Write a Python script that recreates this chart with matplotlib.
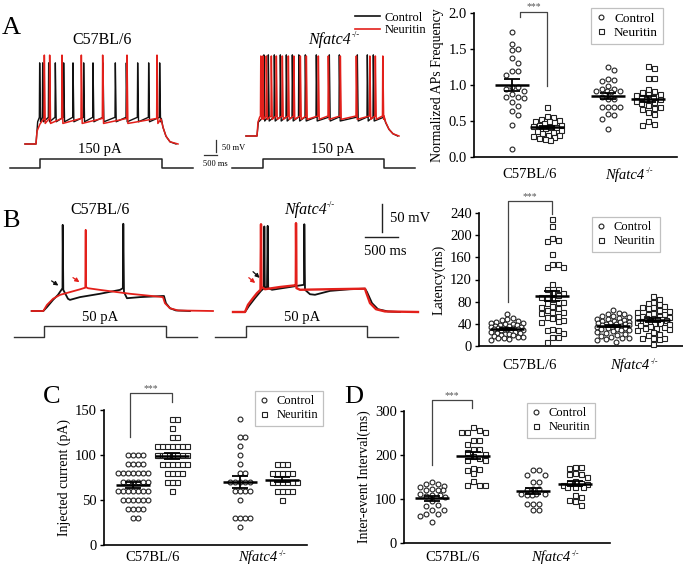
import numpy as np
import matplotlib
matplotlib.use('Agg')
import matplotlib.pyplot as plt
from matplotlib.lines import Line2D
from matplotlib.transforms import blended_transform_factory

plt.rcParams['font.family'] = 'Liberation Serif'

RED = '#e3201b'
BLK = '#111111'

# ---- A: normalized AP frequency ----
ap_wt_ctrl = [1.73, 1.57, 1.50, 1.49, 1.38, 1.31, 1.19, 1.19, 1.14, 0.97, 0.97, 0.94,
              0.92, 0.87, 0.84, 0.84, 0.82, 0.76, 0.71, 0.64, 0.58, 0.45, 0.11]
ap_wt_neur = [0.70, 0.57, 0.55, 0.53, 0.52, 0.50, 0.50, 0.48, 0.47, 0.45, 0.44, 0.43, 0.42,
              0.42, 0.40, 0.38, 0.36, 0.35, 0.33, 0.31, 0.30, 0.29, 0.28, 0.27, 0.25, 0.24]
ap_ko_ctrl = [1.25, 1.21, 1.08, 1.07, 1.06, 0.99, 0.95, 0.94, 0.92, 0.92, 0.92, 0.90,
              0.84, 0.81, 0.81, 0.70, 0.70, 0.69, 0.69, 0.60, 0.58, 0.53, 0.39]
ap_ko_neur = [1.27, 1.24, 1.10, 1.10, 0.95, 0.92, 0.90, 0.88, 0.87, 0.86, 0.85, 0.83, 0.80,
              0.80, 0.78, 0.77, 0.75, 0.72, 0.70, 0.68, 0.66, 0.62, 0.60, 0.50, 0.46, 0.44]

# ---- B: latency (ms) ----
lat_wt_ctrl = [58, 50, 48, 47, 45, 44, 42, 41, 40, 39, 38, 37, 36, 36, 35, 34, 33, 33, 32, 31,
               30, 30, 29, 28, 27, 26, 25, 24, 23, 22, 21, 20, 19, 18, 17, 16, 15, 15, 12, 10]
lat_wt_neur = [229, 216, 195, 192, 189, 166, 148, 148, 142, 142, 112, 103, 103, 97, 96, 92, 89,
               88, 85, 80, 80, 78, 72, 71, 68, 65, 62, 62, 60, 55, 53, 50, 47, 45, 44, 30, 29,
               28, 23, 17, 16, 8]
lat_ko_ctrl = [65, 60, 58, 57, 55, 54, 52, 50, 49, 48, 47, 46, 45, 44, 43, 42, 41, 40, 40, 39,
               38, 37, 36, 35, 34, 33, 32, 31, 30, 29, 28, 27, 25, 24, 22, 20, 18, 16, 15, 14,
               12, 10, 8]
lat_ko_neur = [90, 85, 80, 78, 75, 72, 70, 70, 68, 65, 63, 62, 60, 58, 57, 55, 54, 53, 52, 50,
               50, 49, 48, 47, 46, 45, 44, 43, 42, 41, 40, 38, 36, 35, 33, 32, 30, 28, 25, 22,
               20, 15, 15, 14, 12, 3]

# ---- C: injected current (pA) ----
cur_wt_ctrl = [100] * 4 + [90] * 4 + [80] * 7 + [70] * 6 + [60] * 7 + [50] * 6 + [40] * 4 + [30] * 2
cur_wt_neur = [140] * 2 + [130] + [120] * 2 + [110] * 7 + [100] * 9 + [90] * 6 + [80] * 4 + [70] * 3 + [60]
cur_ko_ctrl = [140, 120, 120, 110, 100, 90, 80, 80, 70, 70, 70, 70, 70, 60, 60, 60, 60, 50,
               30, 30, 30, 30, 20]
cur_ko_neur = [90] * 3 + [80] * 5 + [70] * 6 + [60] * 4 + [50]

# ---- D: inter-event interval (ms) ----
iei_wt_ctrl = [139, 133, 135, 130, 127, 122, 120, 120, 120, 108, 111, 106, 105, 108, 95, 86, 83,
               74, 74, 65, 67, 62, 48]
iei_wt_neur = [264, 256, 252, 252, 252, 233, 233, 224, 214, 214, 207, 202, 197, 194, 189, 189,
               167, 169, 171, 158, 131, 131, 131, 140]
iei_ko_ctrl = [165, 154, 154, 165, 139, 139, 123, 121, 123, 111, 108, 108, 111, 111, 88, 88, 88,
               74, 74]
iei_ko_neur = [173, 173, 171, 156, 159, 156, 150, 136, 140, 136, 131, 133, 127, 127, 127, 108,
               105, 95, 97, 87]

# ---- A traces: spike times (ms after depolarisation) and levels (mV) ----
a_wt_ctrl_spikes = [50, 95, 185, 285, 410, 550, 710, 850, 1000, 1185, 1350, 1520, 1685, 1850]
a_wt_neur_spikes = [120, 200, 385, 675, 995, 1360, 1810]
a_ko_ctrl_spikes = [98, 165, 255, 345, 435, 525, 622, 720, 885, 1080, 1230, 1500, 1650, 1740]
a_ko_neur_spikes = [52, 82, 135, 210, 285, 375, 465, 548, 645, 735, 915, 1065, 1245, 1485,
                    1688, 1770, 1882]
# threshold, trough, peak
a_wt_ctrl_lv = (-22, -30, 76)
a_wt_neur_lv = (-24, -33, 90)
a_ko_ctrl_lv = (-36, -43, 76)
a_ko_neur_lv = (-34, -40, 74)
a_wt_ctrl_on = ([-165, 0, 25], [-70, -70, -30])
a_wt_neur_on = ([-165, 0, 15, 60], [-70, -70, -47, -34])
a_wt_ctrl_off = ([1880, 1905, 1950, 2010, 2100], [-24, -40, -56, -66, -70])
a_wt_neur_off = ([1875, 1905, 1950, 2010, 2130], [-25, -40, -56, -66, -70])
a_ko_ctrl_on = ([-165, 0, 20, 80], [-70, -70, -45, -38])
a_ko_neur_on = ([-165, 0, 15, 40], [-70, -70, -45, -36])
a_ko_ctrl_off = ([1905, 1930, 1980, 2040, 2110], [-36, -46, -58, -66, -70])
a_ko_neur_off = ([1905, 1930, 1980, 2040, 2130], [-34, -45, -58, -66, -70])

# ---- B traces (ms, mV) ----
b_wt_ctrl_t = [-174, 0, 55, 146, 220, 288, 291, 300, 370, 400, 550, 850, 1150, 1193, 1200, 1210,
               1255, 1450, 1795, 1810, 1840, 1900, 1990, 2200]
b_wt_ctrl_v = [-70, -70, -63, -50, -41, -29, 85, -32, -48, -50, -45, -39, -32, -29, 87, -36,
               -47, -45, -43, -43, -56, -65, -69, -70]
b_wt_neur_t = [-174, 0, 55, 146, 250, 400, 550, 630, 636, 640, 670, 850, 1300, 1795, 1825, 1900,
               2020, 2545]
b_wt_neur_v = [-70, -70, -59, -48, -41, -36, -31, -28, 76, -27, -29, -32, -39, -45, -56, -65,
               -69, -70]
b_ko_ctrl_t = [-180, 0, 60, 150, 240, 285, 290, 297, 330, 340, 348, 405, 675, 885, 890, 900, 975,
               1050, 1275, 1575, 1800, 1830, 1905, 1995, 2145, 2325]
b_ko_ctrl_v = [-70, -70, -59, -45, -32, -27, 84, -25, -26, 85, -27, -30, -25, -21, 88, -30, -38,
               -39, -32, -29, -28, -34, -54, -65, -69, -70]
b_ko_neur_t = [-180, 0, 45, 120, 180, 232, 240, 248, 300, 525, 750, 762, 765, 772, 825, 1275,
               1800, 1815, 1875, 1965, 2100, 2595]
b_ko_neur_v = [-70, -70, -57, -45, -36, -30, 88, -25, -29, -25, -22, -21, 90, -27, -30, -29, -28,
               -34, -54, -65, -69, -70]

# current step protocol
stim_t = [-460, 0, 0, 1820, 1820, 2290]
stim_a = [0, 0, 150, 150, 0, 0]
stim_b = [0, 0, 50, 50, 0, 0]

W, H = 683, 565
fig = plt.figure(figsize=(W / 100, H / 100), dpi=100)
# transparent overlay for figure-level text
ov = fig.add_axes([0, 0, 1, 1])
ov.axis('off')


def box_axes(x0, x1, y0, y1):
    return fig.add_axes([x0 / W, 1 - y1 / H, (x1 - x0) / W, (y1 - y0) / H])


def ftext(x, y, s, **kw):
    kw.setdefault('ha', 'center')
    kw.setdefault('va', 'baseline')
    return fig.text(x / W, 1 - y / H, s, **kw)


def ko_label(owner, x, y, fs, transform):
    # italic gene name with a small upright -/- superscript
    t = owner.text(x, y, 'Nfatc4', transform=transform, ha='center', va='baseline',
                   fontsize=fs, style='italic')
    owner.annotate('-/-', xy=(1.0, 1.0), xycoords=t, xytext=(0.5, 0.5),
                   textcoords='offset points', ha='left', va='top', fontsize=fs * 0.55)
    return t


def scaled_axes(x0, x1, y0, y1, xz, yz, xs, ys, y_at_zero=0.0):
    # axes whose data units are xs per pixel / ys per pixel, zero at (xz, yz)
    ax = box_axes(x0, x1, y0, y1)
    ax.set_xlim((x0 - xz) * xs, (x1 - xz) * xs)
    ax.set_ylim(y_at_zero + (yz - y1) * ys, y_at_zero + (yz - y0) * ys)
    ax.axis('off')
    return ax


def spike_train(on, spikes, lv, off):
    thr, trough, peak = lv
    t, v = list(on[0]), list(on[1])
    for s in spikes:
        t += [s, s + 5, s + 18]
        v += [thr, peak, trough]
    return t + off[0], v + off[1]


def swarm(vals, ppu, d, cap):
    # simple beeswarm in pixel units, limited to +/- cap
    offs = np.zeros(len(vals))
    placed = []
    n = int(cap // d)
    cands = [0.0]
    for k in range(1, n + 1):
        cands += [k * d, -k * d]
    fine = np.arange(-cap, cap + 0.1, 1.0)
    for i in np.argsort(vals)[::-1]:
        y = vals[i] * ppu
        pick = None
        for cand in cands:
            if all((cand - px) ** 2 + (y - py) ** 2 >= 0.9 * d * d for px, py in placed):
                pick = cand
                break
        if pick is None:
            best = -1
            for cand in fine:
                md = min((cand - px) ** 2 + (y - py) ** 2 for px, py in placed)
                if md > best:
                    best, pick = md, cand
        offs[i] = pick
        placed.append((pick, y))
    return offs


def dot_panel(box, pos, groups, ytop, ystep, fmt, ylabel, d, cap, cat_base, bracket, leg_at,
              leg_fs):
    x0, x1, y0, y1 = box
    ax = box_axes(x0, x1, y0, y1)
    ax.set_xlim(0, x1 - x0)
    ax.set_ylim(0, ytop)
    ppu = (y1 - y0) / ytop
    for k, vals in enumerate(groups):
        vals = np.asarray(vals, float)
        c = pos[k] - x0
        xs = c + swarm(vals, ppu, d, cap)
        if k % 2 == 0:
            ax.plot(xs, vals, ls='none', marker='o', ms=3.5, mfc='white', mec='#222',
                    mew=0.8, clip_on=False, zorder=3)
        else:
            ax.plot(xs, vals, ls='none', marker='s', ms=3.6, mfc='white', mec='#222',
                    mew=0.8, clip_on=False, zorder=3)
        m = vals.mean()
        se = vals.std(ddof=1) / np.sqrt(len(vals))
        ax.hlines(m, c - 17, c + 17, color='black', lw=1.8, zorder=4)
        ax.vlines(c, m - se, m + se, color='black', lw=1.3, zorder=4)
        ax.hlines([m - se, m + se], c - 8, c + 8, color='black', lw=1.3, zorder=4)
    ax.spines['top'].set_visible(False)
    ax.spines['right'].set_visible(False)
    ax.spines['left'].set_linewidth(1.2)
    ax.spines['bottom'].set_linewidth(1.2)
    ticks = np.arange(0, ytop + ystep / 2, ystep)
    ax.set_yticks(ticks)
    ax.set_yticklabels([fmt % t for t in ticks], fontsize=10.5)
    ax.tick_params(axis='y', direction='out', length=3, width=1, pad=2)
    ax.set_xticks([])
    ax.set_ylabel(ylabel, fontsize=10, labelpad=3)
    tr = blended_transform_factory(ax.transData, fig.transFigure)
    ax.text((pos[0] + pos[1]) / 2 - x0, 1 - cat_base / H, 'C57BL/6', transform=tr,
            ha='center', va='baseline', fontsize=10.5)
    ko_label(ax, (pos[2] + pos[3]) / 2 - x0 - 3, 1 - cat_base / H, 10.5, tr)
    xl, xr, yt, ylb, yrb = bracket
    ax.plot([xl - x0, xl - x0, xr - x0, xr - x0], [ylb, yt, yt, yrb], color='#444',
            lw=0.9, clip_on=False)
    ax.text((xl + xr) / 2 - x0, yt + 4.5 / ppu, '***', ha='center', va='center',
            fontsize=7, color='#555', clip_on=False)
    h = [Line2D([], [], ls='none', marker='o', ms=3.5, mfc='white', mec='#222', mew=0.8),
         Line2D([], [], ls='none', marker='s', ms=3.6, mfc='white', mec='#222', mew=0.8)]
    leg = ax.legend(h, ['Control', 'Neuritin'], loc='upper left',
                    bbox_to_anchor=(leg_at[0] / W, 1 - leg_at[1] / H),
                    bbox_transform=fig.transFigure, fontsize=leg_fs, frameon=True,
                    fancybox=False, edgecolor='#c0c0c0', framealpha=1, borderpad=0.35,
                    handlelength=0.8, handletextpad=0.6, labelspacing=0.15, borderaxespad=0)
    leg.get_frame().set_linewidth(0.9)
    return ax


# ===== Panel A traces =====
ax = scaled_axes(15, 190, 40, 150, 36, 144, 15, 1.8, -70)
t, v = spike_train(a_wt_ctrl_on, a_wt_ctrl_spikes, a_wt_ctrl_lv, a_wt_ctrl_off)
ax.plot(t, v, color=BLK, lw=1.0)
t, v = spike_train(a_wt_neur_on, a_wt_neur_spikes, a_wt_neur_lv, a_wt_neur_off)
ax.plot(t, v, color=RED, lw=1.1)

ax = scaled_axes(235, 410, 40, 145, 257, 136, 15, 1.8, -70)
t, v = spike_train(a_ko_ctrl_on, a_ko_ctrl_spikes, a_ko_ctrl_lv, a_ko_ctrl_off)
ax.plot(t, v, color=BLK, lw=1.0)
t, v = spike_train(a_ko_neur_on, a_ko_neur_spikes, a_ko_neur_lv, a_ko_neur_off)
ax.plot(t, v, color=RED, lw=1.1)

for xz in (40.3, 262.7):
    ax = scaled_axes(xz - 35, xz + 160, 150, 175, xz, 168, 15, 17.5)
    ax.plot(stim_t, stim_a, color='#222', lw=1.1, clip_on=False)

# A scale bar (50 mV / 500 ms)
ax = scaled_axes(198, 232, 135, 170, 204, 155, 38.5, 4.17)
ax.plot([0, 500], [0, 0], color='#333', lw=0.9, clip_on=False)
ax.plot([480, 480], [12, 62], color='#333', lw=0.9, clip_on=False)
ftext(222, 149.5, '50 mV', ha='left', fontsize=6)
ftext(203, 166.5, '500 ms', ha='left', fontsize=6)

ftext(102, 43.5, 'C57BL/6', fontsize=11.5)
ko_label(ov, 330 / W, 1 - 43.5 / H, 11.5, fig.transFigure)
ftext(100, 153.5, '150 pA', fontsize=10.5)
ftext(333, 153.5, '150 pA', fontsize=10.5)
ftext(2, 33.5, 'A', ha='left', fontsize=19)

fig.legend([Line2D([], [], color=BLK, lw=1.2), Line2D([], [], color=RED, lw=1.2)],
           ['Control', 'Neuritin'], loc='upper left', bbox_to_anchor=(346 / W, 1 - 3 / H),
           frameon=False, fontsize=9, handlelength=2.0, handletextpad=0.4,
           labelspacing=0.05, borderpad=0.2)

# ===== Panel B traces =====
ax = scaled_axes(20, 222, 215, 318, 43.3, 311, 15, 1.8, -70)
ax.plot(b_wt_ctrl_t, b_wt_ctrl_v, color=BLK, lw=1.3)
ax.plot(b_wt_neur_t, b_wt_neur_v, color=RED, lw=1.3)
ax.annotate('', xy=(261, -27), xytext=(90, -13),
            arrowprops=dict(arrowstyle='-|>', lw=0.9, color=BLK, mutation_scale=6))
ax.annotate('', xy=(576, -21), xytext=(411, -7),
            arrowprops=dict(arrowstyle='-|>', lw=0.9, color=RED, mutation_scale=6))

ax = scaled_axes(222, 425, 195, 318, 245, 312, 15, 1.8, -70)
ax.plot(b_ko_ctrl_t, b_ko_ctrl_v, color=BLK, lw=1.3)
ax.plot(b_ko_neur_t, b_ko_neur_v, color=RED, lw=1.7)
ax.annotate('', xy=(250, -12), xytext=(90, 6),
            arrowprops=dict(arrowstyle='-|>', lw=0.9, color=BLK, mutation_scale=6))
ax.annotate('', xy=(185, -21), xytext=(25, -5),
            arrowprops=dict(arrowstyle='-|>', lw=0.9, color=RED, mutation_scale=6))
# B scale bar
ax.plot([2055, 2055], [74, 124], color='#222', lw=1.0, clip_on=False)
ax.plot([1800, 2300], [65, 65], color='#222', lw=1.0, clip_on=False)
ftext(390, 222, '50 mV', ha='left', fontsize=10.5)
ftext(385, 255, '500 ms', fontsize=10.5)

for xz in (44.3, 245.7):
    ax = scaled_axes(xz - 35, xz + 160, 320, 342, xz, 336.7, 15, 4.67)
    ax.plot(stim_t, stim_b, color='#333', lw=1.0, clip_on=False)

ftext(100, 213.5, 'C57BL/6', fontsize=11.5)
ko_label(ov, 305 / W, 1 - 213.5 / H, 11.5, fig.transFigure)
ftext(100, 321, '50 pA', fontsize=10.5)
ftext(302, 321, '50 pA', fontsize=10.5)
ftext(2, 227, 'B', ha='left', fontsize=19)

# ===== dot plots =====
dot_panel((474, 677, 13, 157), (512, 547, 608, 648),
          [ap_wt_ctrl, ap_wt_neur, ap_ko_ctrl, ap_ko_neur], 2.0, 0.5, '%.1f',
          'Normalized APs Frequency', 6.0, 14, 178.5, (520, 547, 2.02, 1.95, 0.99),
          (591, 8), 9.5)
dot_panel((479, 683, 213, 346), (507, 552, 613, 653),
          [lat_wt_ctrl, lat_wt_neur, lat_ko_ctrl, lat_ko_neur], 240, 40, '%d',
          'Latency(ms)', 5.5, 16, 369, (507.7, 551.7, 262, 79, 238), (592, 217), 9)
dot_panel((104, 307, 410, 545), (133, 172, 240, 282),
          [cur_wt_ctrl, cur_wt_neur, cur_ko_ctrl, cur_ko_neur], 150, 50, '%d',
          'Injected current (pA)', 5.0, 15, 561, (130, 171.7, 168.6, 120, 159), (255, 391), 9)
dot_panel((404, 610, 411, 543), (432, 473, 533, 575),
          [iei_wt_ctrl, iei_wt_neur, iei_ko_ctrl, iei_ko_neur], 300, 100, '%d',
          'Inter-event Interval(ms)', 6.0, 13, 561, (431.7, 472.3, 325, 177, 307), (527, 403), 9)

ftext(43, 403, 'C', ha='left', fontsize=19)
ftext(344, 403, 'D', ha='left', fontsize=19)

fig.savefig('out.png', dpi=100)
